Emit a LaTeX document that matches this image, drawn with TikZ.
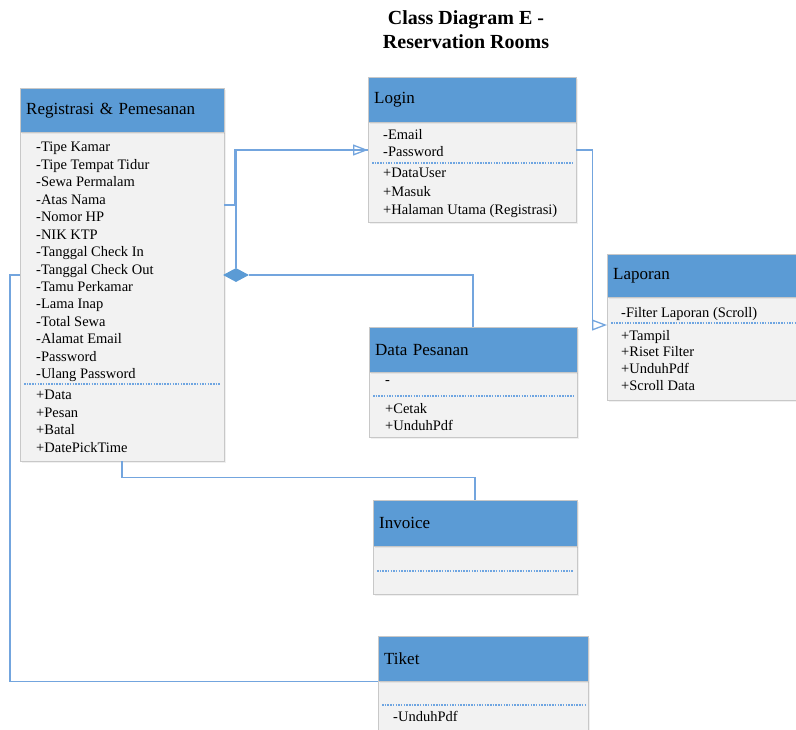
\documentclass[tikz,border=0pt]{standalone}
\usepackage{fontspec}
\setmainfont{Liberation Serif}
\usetikzlibrary{arrows.meta,shapes.geometric,shadows}

\definecolor{hdrblue}{RGB}{91,155,213}
\definecolor{bodygray}{RGB}{242,242,242}
\definecolor{boxline}{RGB}{200,200,200}
\definecolor{connblue}{RGB}{115,165,222}
\definecolor{sepblue}{RGB}{110,165,225}

\tikzset{
    hdr/.style={draw=boxline, fill=hdrblue, anchor=north west, inner ysep=0pt, inner xsep=6pt,
        align=left, font=\fontsize{17}{20}\selectfont, drop shadow={opacity=.12, shadow xshift=1.5pt, shadow yshift=-1.5pt}},
    body/.style={draw=boxline, fill=bodygray, anchor=north west, inner sep=0pt,
        drop shadow={opacity=.12, shadow xshift=1.5pt, shadow yshift=-1.5pt}},
    items/.style={anchor=north west, inner sep=0pt, align=left},
    sep/.style={sepblue, line width=1.2pt, dash pattern=on 1.5pt off 1.2pt},
    conn/.style={connblue, line width=1.6pt},
    gen/.style={-{Triangle[open, length=15pt, width=11pt, line width=1.3pt]}},
    comp/.style={shape=diamond, fill=hdrblue, inner sep=0pt, minimum width=26pt, minimum height=14pt}
}

\begin{document}
\begin{tikzpicture}[x=1pt, y=-1pt]

    \useasboundingbox (0,0) rectangle (796,729);

    \node[font=\bfseries\fontsize{20}{24}\selectfont, align=center] (title) at (466,30) {Class Diagram E -\\Reservation Rooms};

    % registrasi
    \node[body, minimum width=204pt, minimum height=329pt] (regb) at (20,132) {};
    \node[hdr, text width=192pt, minimum height=44pt] (regh) at (20,88) {Registrasi \& Pemesanan};
    \node[items, font=\fontsize{14.5}{17.46}\selectfont] (regattr) at (36,142) {-Tipe Kamar\\-Tipe Tempat Tidur\\-Sewa Permalam\\-Atas Nama\\-Nomor HP\\-NIK KTP\\-Tanggal Check In\\-Tanggal Check Out\\-Tamu Perkamar\\-Lama Inap\\-Total Sewa\\-Alamat Email\\-Password\\-Ulang Password};
    \draw[sep] (24,384) -- (220,384);
    \node[items, font=\fontsize{14.5}{17.6}\selectfont] (regmeth) at (36,390) {+Data\\+Pesan\\+Batal\\+DatePickTime};

    % login
    \node[body, minimum width=208pt, minimum height=100pt] (loginb) at (368,122) {};
    \node[hdr, text width=196pt, minimum height=45pt] (loginh) at (368,77) {Login};
    \node[items, font=\fontsize{14.5}{17}\selectfont] (loginattr) at (383,129) {-Email\\-Password};
    \draw[sep] (372,163) -- (572,163);
    \node[items, font=\fontsize{14.5}{18.5}\selectfont] (loginmeth) at (383,168) {+DataUser\\+Masuk\\+Halaman Utama (Registrasi)};

    % laporan
    \node[body, minimum width=195pt, minimum height=103pt] (lapb) at (607,297) {};
    \node[hdr, text width=183pt, minimum height=43pt] (laph) at (607,254) {Laporan};
    \node[items, font=\fontsize{14.5}{17}\selectfont] (lapattr) at (621,307) {-Filter Laporan (Scroll)};
    \draw[sep] (611,323) -- (796,323);
    \node[items, font=\fontsize{14.5}{16.7}\selectfont] (lapmeth) at (621,330) {+Tampil\\+Riset Filter\\+UnduhPdf\\+Scroll Data};

    % data pesanan
    \node[body, minimum width=208pt, minimum height=65pt] (dpesb) at (369,372) {};
    \node[hdr, text width=196pt, minimum height=45pt] (dpesh) at (369,327) {Data Pesanan};
    \node[items, font=\fontsize{14.5}{17}\selectfont] (dpesattr) at (385,380) {-};
    \draw[sep] (373,396) -- (573,396);
    \node[items, font=\fontsize{14.5}{17}\selectfont] (dpesmeth) at (385,403) {+Cetak\\+UnduhPdf};

    % invoice
    \node[body, minimum width=204pt, minimum height=48pt] (invb) at (373,546) {};
    \node[hdr, text width=192pt, minimum height=46pt] (invh) at (373,500) {Invoice};
    \draw[sep] (377,571) -- (573,571);

    % tiket
    \node[body, minimum width=210pt, minimum height=50pt] (tikb) at (378,681) {};
    \node[hdr, text width=198pt, minimum height=45pt] (tikh) at (378,636) {Tiket};
    \draw[sep] (382,705) -- (586,705);
    \node[items, font=\fontsize{14.5}{17}\selectfont] (tikmeth) at (393,711) {-UnduhPdf};

    % relasi
    \node[comp] (agg) at (236,275) {};
    \draw[conn] (agg.north) |- ([yshift=-28pt]loginb.north west);
    \draw[conn, gen] ([yshift=-73pt]regb.north east) -- ++(10,0) |- ([yshift=-28pt]loginb.north west);
    \draw[conn] (agg.east) -| (dpesh.north);
    \draw[conn, gen] ([yshift=-28pt]loginb.north east) -- ++(16,0) |- ([yshift=-28pt]lapb.north west);
    \draw[conn] (regb.south) -- ++(0,16) -| (invh.north);
    \draw[conn] ([yshift=-143pt]regb.north west) -- ++(-10,0) |- (tikh.south west);

\end{tikzpicture}
\end{document}
